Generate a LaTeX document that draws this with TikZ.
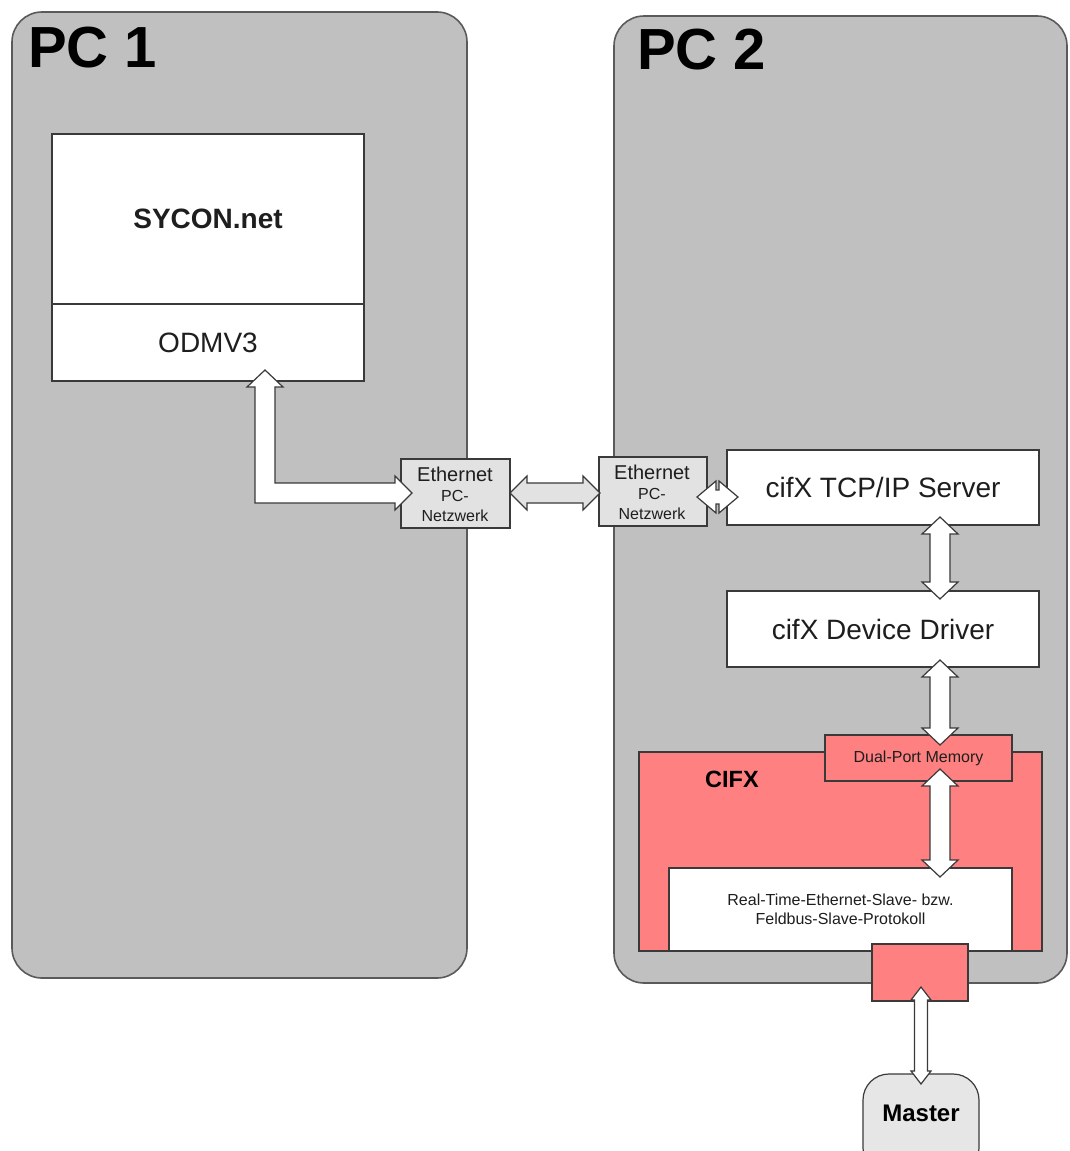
\documentclass[tikz,border=0pt]{standalone}
\usepackage{fontspec}
\setmainfont{Liberation Sans}
\usetikzlibrary{calc}
\definecolor{pcgray}{HTML}{C0C0C0}
\definecolor{edge}{HTML}{3A3A3A}
\definecolor{pcedge}{HTML}{5A5A5A}
\definecolor{cifxred}{HTML}{FF8080}
\definecolor{ethgray}{HTML}{E2E2E2}
\definecolor{mastergray}{HTML}{E6E6E6}
\definecolor{ink}{HTML}{1E1E1E}
\newcommand{\fsz}[1]{\fontsize{#1}{#1}\selectfont}
% vertical double block arrow: #1 top tip, #2 bottom tip, #3 shaft half, #4 head half, #5 head length, #6 style
\newcommand{\vdarrow}[6]{%
  \draw[#6] (#1) -- ($(#1)+(#4,#5)$) -- ($(#1)+(#3,#5)$) -- ($(#2)+(#3,-#5)$) -- ($(#2)+(#4,-#5)$) -- (#2)
    -- ($(#2)+(-#4,-#5)$) -- ($(#2)+(-#3,-#5)$) -- ($(#1)+(-#3,#5)$) -- ($(#1)+(-#4,#5)$) -- cycle;}
% horizontal double block arrow: #1 left tip, #2 right tip
\newcommand{\hdarrow}[6]{%
  \draw[#6] (#1) -- ($(#1)+(#5,-#4)$) -- ($(#1)+(#5,-#3)$) -- ($(#2)+(-#5,-#3)$) -- ($(#2)+(-#5,-#4)$) -- (#2)
    -- ($(#2)+(-#5,#4)$) -- ($(#2)+(-#5,#3)$) -- ($(#1)+(#5,#3)$) -- ($(#1)+(#5,#4)$) -- cycle;}
\begin{document}
\begin{tikzpicture}[x=1pt,y=-1pt,
  pcbox/.style={draw=pcedge, line width=1.6pt, fill=pcgray, rounded corners=30pt, inner sep=0pt},
  wbox/.style={draw=edge, line width=1.2pt, fill=white, inner sep=0pt, text=ink},
  ethbox/.style={draw=edge, line width=1.2pt, fill=ethgray, inner sep=0pt},
  redbox/.style={draw=edge, line width=1.2pt, fill=cifxred, inner sep=0pt, text=ink},
  mbox/.style={draw=edge, line width=1.2pt, fill=mastergray, rounded corners=26pt, inner sep=0pt},
  blk/.style={draw=edge, line width=1.2pt, fill=white, line join=miter},
  blkg/.style={draw=edge, line width=1.2pt, fill=ethgray, line join=miter},
  txt/.style={inner sep=0pt, text=ink},
]
\useasboundingbox (0,0) rectangle (1069,1151);
\fill[white] (0,0) rectangle (1069,1151);

% PC boxes
\node[pcbox, minimum width=455pt, minimum height=966pt] (pc1) at (239.5,495) {};
\node[pcbox, minimum width=453pt, minimum height=967pt] (pc2) at (840.5,499.5) {};
\node[txt, text=black, anchor=base west, font=\fsz{58}\bfseries] (pc1t) at (28,67) {PC 1};
\node[txt, text=black, anchor=base west, font=\fsz{58}\bfseries] (pc2t) at (637,69) {PC 2};

% PC 1 content
\node[wbox, minimum width=312pt, minimum height=170pt, font=\fsz{28}\bfseries] (sycon) at (208,219) {SYCON.net};
\node[wbox, minimum width=312pt, minimum height=77pt, font=\fsz{28}] (odmv) at (208,342.5) {ODMV3};

% Ethernet boxes
\node[ethbox, minimum width=109pt, minimum height=69pt] (eth1) at (455.5,493.5) {};
\node[txt, font=\fsz{20}] (eth1a) at (455,474) {Ethernet};
\node[txt, font=\fsz{16}] (eth1b) at (455,496) {PC-};
\node[txt, font=\fsz{16}] (eth1c) at (455,516) {Netzwerk};
\node[ethbox, minimum width=108pt, minimum height=69pt] (eth2) at (653,491.5) {};
\node[txt, font=\fsz{20}] (eth2a) at (652,472) {Ethernet};
\node[txt, font=\fsz{16}] (eth2b) at (652,494) {PC-};
\node[txt, font=\fsz{16}] (eth2c) at (652,514) {Netzwerk};

% PC 2 content
\node[wbox, minimum width=312pt, minimum height=75pt, font=\fsz{28}] (tcp) at (883,487.5) {cifX TCP/IP Server};
\node[wbox, minimum width=312pt, minimum height=76pt, font=\fsz{28}] (drv) at (883,629) {cifX Device Driver};
\node[redbox, minimum width=403pt, minimum height=199pt] (cifx) at (840.5,851.5) {};
\node[txt, text=black, font=\fsz{23.5}\bfseries] (cifxt) at (732,779) {CIFX};
\node[wbox, minimum width=343pt, minimum height=83pt, font=\fsz{16}, align=center] (rt) at (840.5,909.5) {Real-Time-Ethernet-Slave- bzw.\\[3pt]Feldbus-Slave-Protokoll};
\node[redbox, minimum width=187pt, minimum height=46pt, font=\fsz{16}] (dpm) at (918.5,758) {Dual-Port Memory};
\node[redbox, minimum width=96pt, minimum height=57pt] (port) at (920,972.5) {};
\node[mbox, minimum width=116pt, minimum height=100pt] (master) at (921,1124) {};
\node[txt, text=black, font=\fsz{24}\bfseries] (mastert) at (921,1113) {Master};

% arrow end points
\coordinate (l1) at (265,370);
\coordinate (l2) at (412,493);
\coordinate (e1) at (510,493);
\coordinate (e2) at (600,493);
\coordinate (s1) at (697,497);
\coordinate (s2) at (738,497);
\coordinate (t1) at (940,517);
\coordinate (t2) at (940,599);
\coordinate (d1) at (940,660);
\coordinate (d2) at (940,745);
\coordinate (m1) at (940,769);
\coordinate (m2) at (940,877);
\coordinate (p1) at (921,987);
\coordinate (p2) at (921,1084);

% L-shaped arrow ODMV3 <-> Ethernet
\draw[blk] (l1) -- ($(l1)+(18,17)$) -- ($(l1)+(10,17)$) -- ($(l2)+(-137,-10)$) -- ($(l2)+(-17,-10)$)
  -- ($(l2)+(-17,-17)$) -- (l2) -- ($(l2)+(-17,17)$) -- ($(l2)+(-17,10)$) -- ($(l2)+(-157,10)$)
  -- ($(l1)+(-10,17)$) -- ($(l1)+(-18,17)$) -- cycle;

\hdarrow{e1}{e2}{10}{17}{17}{blkg}
\hdarrow{s1}{s2}{7}{16}{19}{blk}
\vdarrow{t1}{t2}{10}{18}{17}{blk}
\vdarrow{d1}{d2}{10}{18}{17}{blk}
\vdarrow{m1}{m2}{10}{18}{17}{blk}
\vdarrow{p1}{p2}{6.5}{10}{13}{blk}
\end{tikzpicture}
\end{document}
